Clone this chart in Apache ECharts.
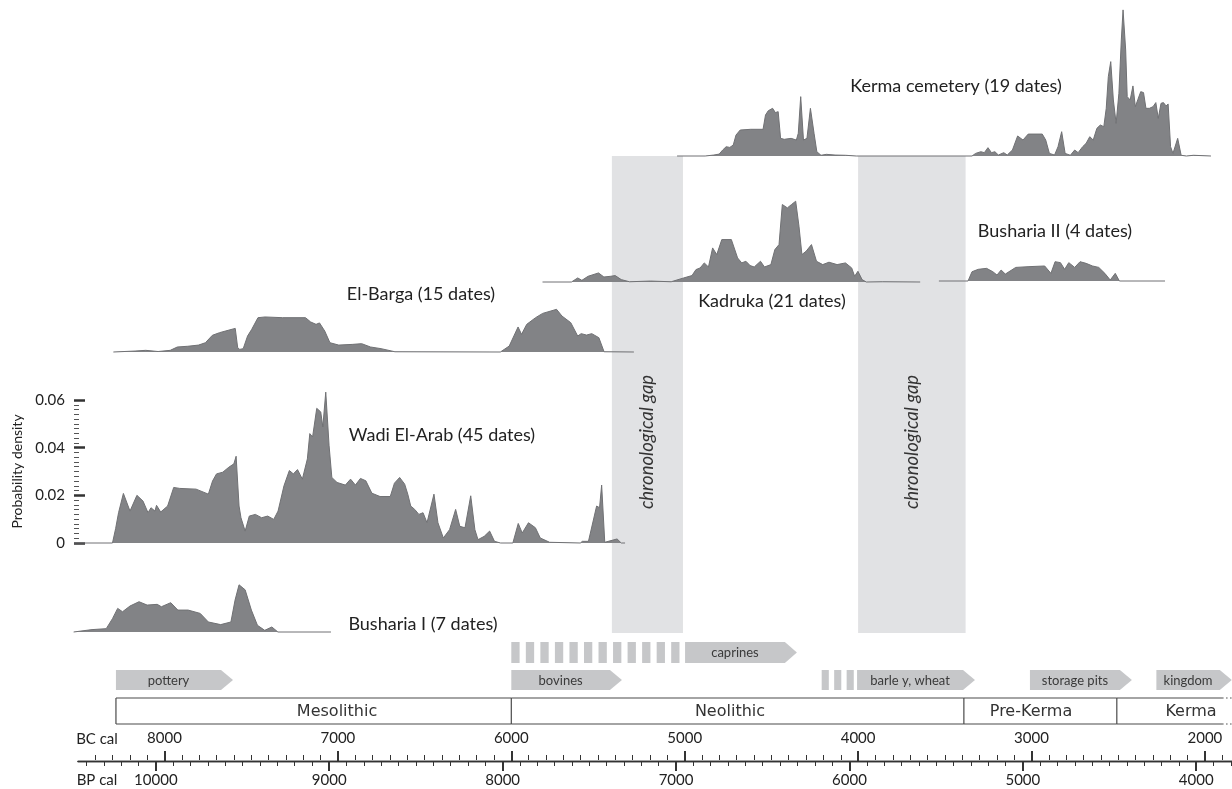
<!DOCTYPE html>
<html><head><meta charset="utf-8">
<script src="https://cdn.jsdelivr.net/npm/echarts@6/dist/echarts.min.js"></script>
<style>html,body{margin:0;padding:0;background:#fff}#c{width:1232px;height:789px}</style>
</head><body><div id="c"></div>
<script>
// ---------------- DATA (years BC cal, probability density) ----------------
const kermaCemetery = [[5044,0],[4882,0],[4832,0.0004],[4801,0.0008],[4781,0.0025],[4761,0.0039],[4740,0.0036],[4720,0.0046],[4704,0.0088],[4680,0.0109],[4619,0.0112],[4548,0.0112],[4534,0.0172],[4518,0.0190],[4493,0.0200],[4477,0.0182],[4461,0.0186],[4447,0.0074],[4426,0.0070],[4386,0.0074],[4356,0.0067],[4345,0.0095],[4331,0.0249],[4315,0.0067],[4295,0.0074],[4275,0.0200],[4254,0.0095],[4238,0.0018],[4214,0.0003],[4183,0.0007],[4133,0.0004],[4072,0.0003],[4011,0],[3343,0],[3322,0.0011],[3292,0.0018],[3272,0.0014],[3251,0.0035],[3231,0.0014],[3211,0.0018],[3191,0.0004],[3160,0.0014],[3140,0.0004],[3110,0.0025],[3080,0.0084],[3049,0.0067],[3019,0.0092],[2938,0.0092],[2918,0.0067],[2897,0.0011],[2867,0.0004],[2847,0.0039],[2826,0.0102],[2806,0.0011],[2776,0.0003],[2751,0.0025],[2731,0.0014],[2705,0.0039],[2685,0.0053],[2664,0.0081],[2644,0.0067],[2623,0.0116],[2603,0.0130],[2583,0.0123],[2569,0.0200],[2557,0.0333],[2543,0.0396],[2528,0.0235],[2512,0.0137],[2496,0.0263],[2482,0.0487],[2472,0.0613],[2457,0.0445],[2448,0.0249],[2431,0.0235],[2415,0.0294],[2401,0.0207],[2386,0.0238],[2370,0.0270],[2354,0.0266],[2340,0.0200],[2320,0.0200],[2299,0.0207],[2283,0.0224],[2269,0.0158],[2253,0.0221],[2239,0.0224],[2224,0.0210],[2212,0.0218],[2198,0.0039],[2184,0.0011],[2157,0.0074],[2137,0.0003],[2107,0],[2066,0.0003],[1965,0]];

const kadruka = [[5820,0],[5653,0],[5617,0.0017],[5593,0.0007],[5557,0.0024],[5497,0.0038],[5466,0.0021],[5426,0.0024],[5401,0.0027],[5366,0.0010],[5318,0.0001],[5198,0.0004],[5078,0.0001],[5006,0.0017],[4958,0.0027],[4935,0.0052],[4911,0.0059],[4887,0.0080],[4863,0.0063],[4839,0.0143],[4815,0.0115],[4786,0.0178],[4731,0.0178],[4695,0.0101],[4671,0.0080],[4647,0.0087],[4623,0.0069],[4599,0.0063],[4563,0.0087],[4540,0.0063],[4503,0.0073],[4480,0.0136],[4456,0.0157],[4437,0.0325],[4408,0.0311],[4384,0.0325],[4360,0.0339],[4341,0.0234],[4324,0.0115],[4300,0.0129],[4269,0.0157],[4240,0.0087],[4204,0.0073],[4168,0.0083],[4121,0.0073],[4073,0.0080],[4037,0.0059],[4020,0.0024],[4001,0.0045],[3977,0.0010],[3953,0],[3858,0.0001],[3642,0]];

const bushariaII = [[3534,0],[3366,0],[3343,0.0039],[3307,0.0049],[3259,0.0053],[3223,0.0039],[3199,0.0025],[3175,0.0046],[3151,0.0029],[3091,0.0057],[3020,0.0060],[2924,0.0063],[2888,0.0032],[2864,0.0081],[2833,0.0077],[2809,0.0049],[2785,0.0077],[2751,0.0057],[2720,0.0081],[2685,0.0074],[2648,0.0063],[2612,0.0057],[2577,0.0032],[2546,0.0004],[2517,0.0032],[2493,0],[2230,0]];

const elBarga = [[8295,0],[8170,0.0004],[8108,0.0007],[8037,0.0002],[7967,0.0007],[7926,0.0021],[7866,0.0024],[7804,0.0029],[7764,0.0039],[7724,0.0070],[7683,0.0081],[7633,0.0091],[7592,0.0099],[7578,0.0018],[7566,0.0011],[7546,0.0014],[7521,0.0067],[7497,0.0095],[7461,0.0144],[7420,0.0147],[7319,0.0144],[7187,0.0144],[7157,0.0126],[7126,0.0116],[7106,0.0122],[7076,0.0088],[7046,0.0039],[6995,0.0029],[6914,0.0032],[6863,0.0035],[6812,0.0021],[6751,0.0014],[6671,0.0001],[6063,0],[6012,0.0025],[5961,0.0105],[5941,0.0074],[5911,0.0116],[5860,0.0144],[5819,0.0162],[5739,0.0179],[5708,0.0151],[5657,0.0123],[5617,0.0067],[5597,0.0077],[5566,0.0071],[5536,0.0077],[5495,0.0060],[5465,0.0001],[5293,0]];

const wadiElArab = [[8522,0],[8300,0],[8282,0.0060],[8265,0.0127],[8237,0.0208],[8199,0.0134],[8159,0.0200],[8124,0.0176],[8095,0.0127],[8078,0.0148],[8055,0.0134],[8046,0.0158],[8022,0.0130],[7982,0.0155],[7947,0.0233],[7912,0.0229],[7818,0.0226],[7747,0.0205],[7723,0.0260],[7700,0.0290],[7664,0.0297],[7629,0.0318],[7600,0.0332],[7587,0.0364],[7570,0.0155],[7559,0.0106],[7535,0.0050],[7511,0.0113],[7476,0.0120],[7440,0.0106],[7405,0.0113],[7370,0.0099],[7345,0.0134],[7311,0.0240],[7280,0.0304],[7257,0.0290],[7233,0.0308],[7205,0.0268],[7176,0.0353],[7162,0.0459],[7146,0.0445],[7122,0.0565],[7099,0.0550],[7087,0.0487],[7070,0.0633],[7051,0.0410],[7035,0.0275],[7005,0.0254],[6957,0.0243],[6927,0.0268],[6899,0.0243],[6870,0.0271],[6839,0.0261],[6804,0.0209],[6757,0.0195],[6698,0.0195],[6674,0.0251],[6644,0.0275],[6615,0.0247],[6597,0.0205],[6580,0.0155],[6557,0.0141],[6533,0.0120],[6509,0.0127],[6486,0.0085],[6446,0.0205],[6423,0.0085],[6392,0.0021],[6356,0.0056],[6321,0.0141],[6297,0.0070],[6267,0.0064],[6234,0.0198],[6210,0.0056],[6192,0.0014],[6156,0.0028],[6125,0.0050],[6097,0.0007],[6062,0],[5991,0],[5960,0.0082],[5937,0.0042],[5901,0.0085],[5861,0.0064],[5833,0.0021],[5779,0.0003],[5602,0],[5590,0.0007],[5555,0.0007],[5508,0.0155],[5491,0.0148],[5479,0.0243],[5461,0.0003],[5425,0.0010],[5390,0.0017],[5366,0],[5344,0]];

const bushariaI = [[8524,0],[8418,0.0010],[8336,0.0014],[8300,0.0056],[8270,0.0099],[8242,0.0085],[8199,0.0109],[8147,0.0127],[8100,0.0113],[8042,0.0116],[8018,0.0106],[7964,0.0123],[7923,0.0092],[7864,0.0092],[7794,0.0078],[7747,0.0042],[7676,0.0031],[7617,0.0042],[7593,0.0134],[7570,0.0198],[7535,0.0177],[7499,0.0092],[7464,0.0028],[7422,0.0007],[7381,0.0021],[7346,0],[7040,0]];

const curveNames = ['Kerma cemetery (19 dates)','Kadruka (21 dates)','Busharia II (4 dates)','El-Barga (15 dates)','Wadi El-Arab (45 dates)','Busharia I (7 dates)'];

// chronological gaps [from, to] BC
const gapRanges = [[5420,5010],[4000,3380]];
const gapLabels = ['chronological gap','chronological gap'];

// innovations: [from, to, row]
const arrowRanges = [[8280,7605,1],[6000,5362,1],[4998,4353,0],[4006,3326,1],[3009,2421,1],[2280,1845,1]];
const arrowLabels = ['pottery','bovines','caprines','barle y, wheat','storage pits','kingdom'];
// uncertain beginnings (striped): [from, to, row, stripes]
const stripeRanges = [[6000,5030,0,12],[4210,4025,1,3]];

// cultural periods
const periodNames = ['Mesolithic','Neolithic','Pre-Kerma','Kerma'];
const periodBounds = [8280,6000,3390,2508,1901];
const periodLabelAt = [7005,4739,3003,2080];

// axis ticks
const bcTicks = [8000,7000,6000,5000,4000,3000,2000];
const bpTicks = [10000,9000,8000,7000,6000,5000,4000];
const bcMinor = []; for (let y = 8500; y >= 1900; y -= 100) bcMinor.push(y);
const bpMinor = []; for (let y = 10400; y >= 3800; y -= 100) bpMinor.push(y);
const densityTicks = {min:0, max:0.06, interval:0.02};
const curveScaleMax = 0.065;

// ---------------- LAYOUT ----------------
const W = 1232, H = 789;
const PX_8000 = 164.5, PX_PER_YR = 0.1734;
function yearAt(px){ return 8000 - (px - PX_8000) / PX_PER_YR; }
const YEAR_RIGHT = yearAt(W);
const DENS_PX = 143 / 0.06;
const L = {
  baselines: [156, 282, 281, 352, 543, 632],
  lefts: [0, 0, 0, 0, 74, 0],
  labelPos: [[956,86],[772,301],[1055,231],[421,294],[442,435],[423,624]],
  bandTop: 156, bandBottom: 633, bandTextY: 442,
  rowTop: [642, 670], rowBottom: [663, 690], tip: 12,
  periodTop: 698, periodBottom: 724,
  axisLeft: 78, axisY: 760
};
const FONT = 'Lato, "Open Sans", sans-serif';

const grids = [], xAxes = [], yAxes = [], series = [];
function addGrid(g, xa, ya){
  const i = grids.length;
  grids.push(g);
  xAxes.push(Object.assign({gridIndex:i, type:'value', inverse:true, show:false, splitLine:{show:false}}, xa));
  yAxes.push(Object.assign({gridIndex:i, type:'value', show:false, splitLine:{show:false}}, ya));
  return i;
}

// overlay grid for bands, arrows, periods
const ov = addGrid({left:0, right:0, top:0, height:H}, {min:YEAR_RIGHT, max:yearAt(0)}, {min:0, max:H, inverse:true});

series.push({
  type:'custom', xAxisIndex:ov, yAxisIndex:ov, z:1, silent:true, clip:false,
  data: gapRanges,
  renderItem(p, api){
    const x0 = api.coord([api.value(0),0])[0], x1 = api.coord([api.value(1),0])[0];
    return {type:'group', children:[
      {type:'rect', shape:{x:x0, y:L.bandTop, width:x1-x0, height:L.bandBottom-L.bandTop}, style:{fill:'#e1e2e4'}},
      {type:'text', x:(x0+x1)/2, y:L.bandTextY, rotation:Math.PI/2,
       style:{text:gapLabels[p.dataIndex], fontStyle:'italic', fontSize:18.5, fontFamily:FONT, fill:'#333', align:'center', verticalAlign:'middle'}}
    ]};
  }
});

series.push({
  type:'custom', xAxisIndex:ov, yAxisIndex:ov, z:1, silent:true, clip:false,
  data: arrowRanges,
  renderItem(p, api){
    const x0 = api.coord([api.value(0),0])[0], x1 = api.coord([api.value(1),0])[0];
    const r = api.value(2), y0 = L.rowTop[r], y1 = L.rowBottom[r], ym = (y0+y1)/2, t = L.tip;
    return {type:'group', children:[
      {type:'polygon', shape:{points:[[x0,y0],[x1-t,y0],[x1,ym],[x1-t,y1],[x0,y1]]}, style:{fill:'#c6c7c9'}},
      {type:'text', x:(x0+x1-t)/2, y:ym+0.5, style:{text:arrowLabels[p.dataIndex], fontSize:13, fontFamily:'"Liberation Sans Narrow", Lato, sans-serif', fill:'#3a3a3a', align:'center', verticalAlign:'middle'}}
    ]};
  }
});

series.push({
  type:'custom', xAxisIndex:ov, yAxisIndex:ov, z:1, silent:true, clip:false,
  data: stripeRanges,
  renderItem(p, api){
    const x0 = api.coord([api.value(0),0])[0], x1 = api.coord([api.value(1),0])[0];
    const r = api.value(2), n = api.value(3), y0 = L.rowTop[r], y1 = L.rowBottom[r];
    const w = (x1 - x0) / (n + 0.75*(n-1)), step = w*1.75;
    const ch = [];
    for (let k = 0; k < n; k++) ch.push({type:'rect', shape:{x:x0+k*step, y:y0, width:w, height:y1-y0}, style:{fill:'#c6c7c9'}});
    return {type:'group', children:ch};
  }
});

series.push({
  type:'custom', xAxisIndex:ov, yAxisIndex:ov, z:1, silent:true, clip:false,
  data: periodNames.map((n,i)=>[periodBounds[i], periodBounds[i+1], periodLabelAt[i]]),
  renderItem(p, api){
    const x0 = api.coord([api.value(0),0])[0], x1 = api.coord([api.value(1),0])[0], xl = api.coord([api.value(2),0])[0];
    const y0 = L.periodTop, y1 = L.periodBottom, last = p.dataIndex === periodNames.length-1;
    const ls = {stroke:'#4a4a4a', lineWidth:1.2, fill:null};
    const ch = [
      {type:'line', shape:{x1:x0,y1:y0,x2:x0,y2:y1}, style:ls},
      {type:'line', shape:{x1:x0,y1:y0,x2:x1,y2:y0}, style:ls},
      {type:'line', shape:{x1:x0,y1:y1,x2:x1,y2:y1}, style:ls},
      {type:'text', x:xl, y:(y0+y1)/2+1, style:{text:periodNames[p.dataIndex], fontSize:16, fontFamily:'"DejaVu Sans", sans-serif', fill:'#333', align:'center', verticalAlign:'middle'}}
    ];
    if (last) {
      const ds = {stroke:'#4a4a4a', lineWidth:1.2, lineDash:[1.5,2.5], fill:null};
      ch.push({type:'line', shape:{x1:x1,y1:y0,x2:W,y2:y0}, style:ds});
      ch.push({type:'line', shape:{x1:x1,y1:y1,x2:W,y2:y1}, style:ds});
    }
    return {type:'group', children:ch};
  }
});

// density curves
const curveData = [kermaCemetery, kadruka, bushariaII, elBarga, wadiElArab, bushariaI];
curveData.forEach((d, i) => {
  const left = L.lefts[i];
  const isWadi = i === 4;
  const yMax = isWadi ? densityTicks.max : curveScaleMax;
  const hgt = yMax * DENS_PX;
  const ya = {min:densityTicks.min, max:yMax};
  if (isWadi) Object.assign(ya, {
    show:true, position:'left', interval:densityTicks.interval,
    axisLine:{show:false},
    axisTick:{show:true, inside:true, length:11, lineStyle:{color:'#333', width:2.5}},
    minorTick:{show:true, splitNumber:10, length:5, lineStyle:{color:'#555', width:1}},
    minorSplitLine:{show:false},
    axisLabel:{fontSize:15, color:'#222', fontFamily:FONT, margin:9},
    name:'Probability density', nameLocation:'middle', nameGap:50,
    nameTextStyle:{fontSize:14, color:'#222', fontFamily:FONT}
  });
  const gi = addGrid({left:left, right:0, top:L.baselines[i]-hgt, height:hgt},
                     {min:YEAR_RIGHT, max:yearAt(left)}, ya);
  series.push({type:'line', xAxisIndex:gi, yAxisIndex:gi, data:d, symbol:'none', showSymbol:false, clip:false,
    lineStyle:{color:'#707174', width:1}, areaStyle:{color:'#828386', opacity:1}, z:3, silent:true});
});

// bottom axes (BC cal / BP cal)
const axGrid = {left:L.axisLeft, right:0, top:L.axisY, height:1};
const axMaxBC = yearAt(L.axisLeft);
const ai = grids.length;
grids.push(axGrid);
yAxes.push({gridIndex:ai, type:'value', show:false, min:0, max:1});
const tickFont = {fontSize:15, color:'#222', fontFamily:FONT, formatter:(v)=>String(v)};
xAxes.push({gridIndex:ai, type:'value', position:'top', inverse:true, min:YEAR_RIGHT, max:axMaxBC,
  axisLine:{show:true, lineStyle:{color:'#333', width:1.3}},
  axisTick:{show:true, customValues:bcTicks, length:10, lineStyle:{color:'#333', width:2}},
  axisLabel:Object.assign({show:true, customValues:bcTicks, margin:14}, tickFont), splitLine:{show:false}});
xAxes.push({gridIndex:ai, type:'value', position:'top', inverse:true, min:YEAR_RIGHT, max:axMaxBC,
  axisLine:{show:false}, axisTick:{show:true, customValues:bcMinor, length:5, lineStyle:{color:'#333', width:1}},
  axisLabel:{show:false}, splitLine:{show:false}});
xAxes.push({gridIndex:ai, type:'value', position:'bottom', inverse:true, min:YEAR_RIGHT+1950, max:axMaxBC+1950,
  axisLine:{show:true, lineStyle:{color:'#333', width:1.3}},
  axisTick:{show:true, customValues:bpTicks, length:10, lineStyle:{color:'#333', width:2}},
  axisLabel:Object.assign({show:true, customValues:bpTicks, margin:12}, tickFont), splitLine:{show:false}});
xAxes.push({gridIndex:ai, type:'value', position:'bottom', inverse:true, min:YEAR_RIGHT+1950, max:axMaxBC+1950,
  axisLine:{show:false}, axisTick:{show:true, customValues:bpMinor, length:5, lineStyle:{color:'#333', width:1}},
  axisLabel:{show:false}, splitLine:{show:false}});

// text labels
const graphic = curveNames.map((t,i)=>({type:'text', x:L.labelPos[i][0], y:L.labelPos[i][1], z:10,
  style:{text:t, fontSize:18, fontFamily:FONT, fill:'#222', align:'center', verticalAlign:'middle'}}));
graphic.push({type:'text', x:97, y:739, style:{text:'BC cal', fontSize:15, fontFamily:FONT, fill:'#222', align:'center', verticalAlign:'middle'}});
graphic.push({type:'text', x:97, y:780, style:{text:'BP cal', fontSize:15, fontFamily:FONT, fill:'#222', align:'center', verticalAlign:'middle'}});

const chart = echarts.init(document.getElementById('c'), null, {renderer:'canvas'});
chart.setOption({animation:false, backgroundColor:'#fff', grid:grids, xAxis:xAxes, yAxis:yAxes, series:series, graphic:graphic});
</script></body></html>
